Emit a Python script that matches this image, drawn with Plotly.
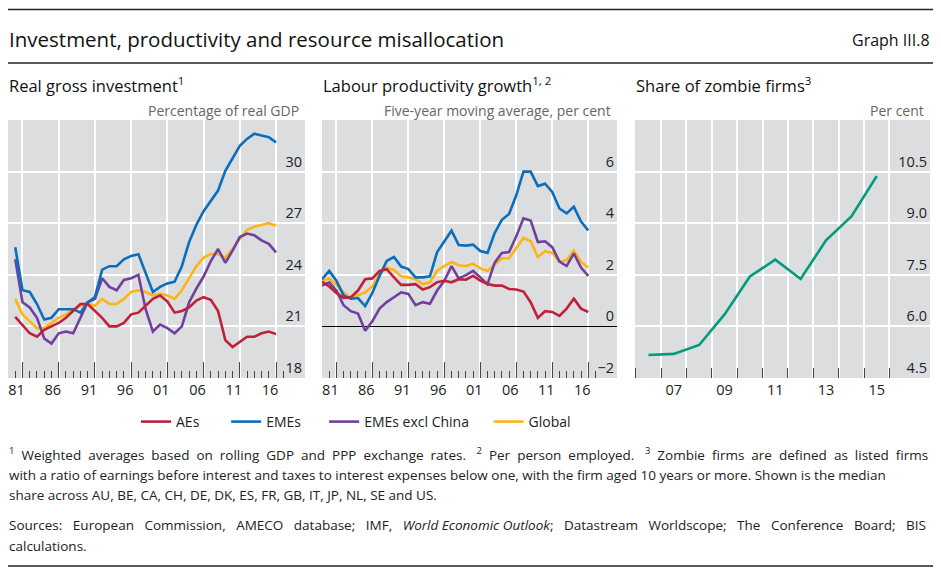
import plotly.graph_objects as go

W, H = 941, 575


def px(x):
    return x / W


def py(y):
    return 1 - y / H


# ---------------- data ----------------
inv_years = list(range(1980, 2017))
inv_aes = [21.55, 21.1, 20.6, 20.4, 20.8, 21.0, 21.2, 21.5, 21.9, 22.3,
           22.3, 21.9, 21.5, 21.0, 21.0, 21.2, 21.7, 21.8, 22.2, 22.6,
           22.8, 22.45, 21.8, 21.9, 22.1, 22.5, 22.7, 22.55, 21.9, 20.2,
           19.8, 20.1, 20.4, 20.4, 20.6, 20.7, 20.55]
inv_emes = [25.6, 23.1, 23.0, 22.3, 21.4, 21.5, 22.0, 22.0, 22.0, 21.8,
            22.4, 22.7, 24.3, 24.5, 24.5, 24.9, 25.1, 25.2, 24.1, 23.0,
            23.3, 23.5, 23.6, 24.5, 25.9, 26.9, 27.7, 28.3, 28.9, 30.05,
            30.8, 31.5, 31.9, 32.2, 32.1, 32.0, 31.7]
inv_emxc = [24.9, 22.4, 22.1, 21.5, 20.3, 20.0, 20.6, 20.7, 20.6, 21.5,
            22.4, 22.6, 23.8, 23.3, 23.1, 23.7, 23.8, 24.0, 22.0, 20.7,
            21.1, 20.9, 20.6, 21.0, 22.4, 23.2, 23.9, 24.8, 25.5, 24.7,
            25.4, 26.2, 26.4, 26.3, 26.0, 25.8, 25.3]
inv_glob = [22.6, 21.7, 21.3, 20.9, 20.9, 21.2, 21.5, 21.7, 22.0, 22.2,
            22.3, 22.2, 22.6, 22.3, 22.3, 22.6, 23.0, 23.1, 23.0, 22.8,
            22.9, 22.8, 22.6, 23.1, 23.8, 24.5, 25.0, 25.2, 25.2, 25.0,
            25.5, 26.1, 26.6, 26.8, 26.9, 27.0, 26.85]

prod_years = list(range(1979, 2017))
prod_aes = [1.73, 1.55, 1.3, 1.1, 1.13, 1.39, 1.83, 1.86, 2.15, 2.22,
            1.9, 1.61, 1.61, 1.64, 1.43, 1.52, 1.71, 1.77, 1.71, 1.83,
            1.81, 1.96, 1.77, 1.64, 1.58, 1.58, 1.45, 1.43, 1.35, 0.94,
            0.33, 0.59, 0.56, 0.41, 0.69, 1.07, 0.69, 0.56]
prod_emes = [1.83, 2.15, 1.77, 1.2, 1.07, 1.1, 0.79, 1.3, 1.96, 2.54,
             2.69, 2.32, 2.22, 1.9, 1.9, 1.94, 2.88, 3.3, 3.71, 3.15,
             3.13, 3.17, 2.92, 2.85, 3.62, 4.13, 4.36, 5.08, 6.0, 6.0,
             5.44, 5.53, 5.21, 4.57, 4.38, 4.64, 4.06, 3.72]
prod_emxc = [1.58, 1.71, 1.39, 0.82, 0.59, 0.5, -0.17, 0.2, 0.69, 0.94,
             1.13, 1.32, 1.26, 0.82, 0.94, 0.88, 1.39, 1.77, 2.34, 1.86,
             1.99, 2.15, 1.9, 1.64, 2.47, 2.85, 2.88, 3.49, 4.19, 4.1,
             3.27, 3.3, 3.07, 2.51, 2.34, 2.83, 2.28, 1.96]
prod_glob = [1.77, 1.86, 1.61, 1.32, 1.1, 1.22, 1.32, 1.55, 2.03, 2.28,
             2.19, 1.94, 1.9, 1.83, 1.64, 1.71, 2.15, 2.34, 2.5, 2.37,
             2.34, 2.43, 2.25, 2.15, 2.41, 2.64, 2.64, 3.04, 3.43, 3.3,
             2.69, 2.92, 2.85, 2.5, 2.57, 2.94, 2.5, 2.28]

zombie_years = list(range(2006, 2016))
zombie_share = [5.17, 5.2, 5.46, 6.35, 7.45, 7.94, 7.38, 8.5, 9.2, 10.37]

long_tickvals = [1981, 1986, 1991, 1996, 2001, 2006, 2011, 2016]
long_ticktext = ["81", "86", "91", "96", "01", "06", "11", "16"]
zombie_tickvals = [2007, 2009, 2011, 2013, 2015]
zombie_ticktext = ["07", "09", "11", "13", "15"]

inv_yticks = [18, 21, 24, 27, 30]
prod_yticks = [-2, 0, 2, 4, 6]
prod_yticktext = ["\u22122", "0", "2", "4", "6"]
zombie_yticks = [4.5, 6.0, 7.5, 9.0, 10.5]

series_names = ["AEs", "EMEs", "EMEs excl China", "Global"]
colors = {"AEs": "#C0203A", "EMEs": "#0A6EBD",
          "EMEs excl China": "#7040A0", "Global": "#FDB515"}
green = "#009B7E"

# ---------------- figure ----------------
FONT = "Open Sans"
BG = "#DCDDDF"
TICKC = "#444444"
NB = "\u00a0"
fig = go.Figure()

inv_data = {"AEs": inv_aes, "EMEs": inv_emes,
            "EMEs excl China": inv_emxc, "Global": inv_glob}
prod_data = {"AEs": prod_aes, "EMEs": prod_emes,
             "EMEs excl China": prod_emxc, "Global": prod_glob}
# spacing after each legend entry (to mimic the reference legend layout)
legend_pad = {"AEs": 6, "EMEs": 5, "EMEs excl China": 4, "Global": 0}

draw_order = ["Global", "EMEs excl China", "EMEs", "AEs"]
for name in draw_order:
    fig.add_trace(go.Scatter(
        x=inv_years, y=inv_data[name], mode="lines",
        name=name + NB * legend_pad[name],
        line=dict(color=colors[name], width=2.6),
        legendrank=series_names.index(name) + 1,
        xaxis="x", yaxis="y", showlegend=True))
for name in draw_order:
    fig.add_trace(go.Scatter(
        x=prod_years, y=prod_data[name], mode="lines", name=name,
        line=dict(color=colors[name], width=2.6),
        xaxis="x2", yaxis="y2", showlegend=False))
fig.add_trace(go.Scatter(
    x=zombie_years, y=zombie_share, mode="lines", name="Zombie firms",
    line=dict(color=green, width=2.6), xaxis="x3", yaxis="y3",
    showlegend=False))

y_dom = [py(378), py(120)]
doms = {1: [px(8), px(305)], 2: [px(322), px(617)], 3: [px(635), px(930)]}

tickfont = dict(family=FONT, size=14.5, color="#222222")


def long_xaxis(dom, anchor):
    return dict(
        domain=dom, anchor=anchor, range=[1979, 2020],
        tickmode="array", tickvals=long_tickvals, ticktext=long_ticktext,
        ticks="inside", ticklen=16, tickwidth=1.3, tickcolor=TICKC,
        ticklabelshift=-6, ticklabelstandoff=1,
        minor=dict(tick0=1979, dtick=1, ticks="inside", ticklen=7,
                   tickwidth=1, tickcolor=TICKC, showgrid=False),
        showgrid=True, gridcolor="white", gridwidth=1.5,
        showline=False, zeroline=False, tickfont=tickfont, fixedrange=True)


def yaxis(anchor, rng, tickvals, ticktext=None, fmt=None, zero=False):
    d = dict(
        domain=y_dom, anchor=anchor, range=rng, side="right",
        tickmode="array", tickvals=tickvals,
        ticklabelposition="inside top", ticks="",
        showgrid=True, gridcolor="white", gridwidth=1.5,
        showline=False, zeroline=zero, zerolinecolor="#000000",
        zerolinewidth=1, tickfont=tickfont, fixedrange=True)
    if ticktext is not None:
        d["ticktext"] = ticktext
    if fmt is not None:
        d["tickformat"] = fmt
    return d


fig.update_layout(
    width=W, height=H,
    margin=dict(l=0, r=0, t=0, b=0, pad=0),
    paper_bgcolor="white", plot_bgcolor=BG,
    font=dict(family=FONT, size=13, color="#222222"),
    xaxis=long_xaxis(doms[1], "y"),
    xaxis2=long_xaxis(doms[2], "y2"),
    xaxis3=dict(
        domain=doms[3], anchor="y3", range=[2005.47, 2017.1],
        tickmode="array", tickvals=zombie_tickvals, ticktext=zombie_ticktext,
        ticks="", ticklabelstandoff=1,
        minor=dict(tick0=2005.5, dtick=1, ticks="inside", ticklen=10,
                   tickwidth=1.3, tickcolor=TICKC, showgrid=True,
                   gridcolor="white", gridwidth=1.5),
        showgrid=False, showline=False, zeroline=False,
        tickfont=tickfont, fixedrange=True),
    yaxis=yaxis("x", [18, 33], inv_yticks),
    yaxis2=yaxis("x2", [-2, 8], prod_yticks, prod_yticktext, zero=True),
    yaxis3=yaxis("x3", [4.5, 12], zombie_yticks, fmt=".1f"),
    legend=dict(orientation="h", x=px(136), y=py(422), xanchor="left",
                yanchor="middle", font=dict(family=FONT, size=14,
                                            color="#222222"),
                bgcolor="rgba(0,0,0,0)", itemwidth=30, tracegroupgap=0),
    showlegend=True,
)


def spread(text, n):
    """Widen word gaps to imitate the justified footnote lines."""
    return text.replace(" ", " " + NB * n) if n else text


ann = []
# main title
ann.append(dict(text="Investment, productivity and resource misallocation",
                x=px(7), y=py(39), xanchor="left", yanchor="middle",
                font=dict(size=20.5, family=FONT, color="#111111")))
ann.append(dict(text="Graph III.8", x=px(932), y=py(40), xanchor="right",
                yanchor="middle",
                font=dict(size=16, family=FONT, color="#111111")))
# panel titles
titles = ["Real gross investment<sup>1</sup>",
          "Labour productivity growth<sup>1, 2</sup>",
          "Share of zombie firms<sup>3</sup>"]
subs = ["Percentage of real GDP", "Five-year moving average, per cent",
        "Per cent"]
for i, (t, s) in enumerate(zip(titles, subs), start=1):
    ann.append(dict(text=t, x=doms[i][0] - px(1), y=py(85), xanchor="left",
                    yanchor="middle",
                    font=dict(size=16.5, family=FONT, color="#111111")))
    ann.append(dict(text=s, x=doms[i][1] - px(4), y=py(110),
                    xanchor="right", yanchor="middle",
                    font=dict(size=14, family=FONT, color="#666666")))

foot = [
    (spread("<sup>1</sup> Weighted averages based on rolling GDP and PPP "
            "exchange rates.", 1) + "   " +
     spread("<sup>2</sup> Per person employed.", 1) + "   " +
     spread("<sup>3</sup> Zombie firms are defined as listed firms", 1), 454),
    ("with a ratio of earnings before interest and taxes to interest expenses "
     "below one, with the firm aged 10 years or more. Shown is the median", 475),
    ("share across AU, BE, CA, CH, DE, DK, ES, FR, GB, IT, JP, NL, SE and US.",
     495),
    (spread("Sources: European Commission, AMECO database; IMF,", 2) +
     " " + NB * 2 + "<i>World Economic Outlook</i>;" + " " + NB * 2 +
     spread("Datastream Worldscope; The Conference Board; BIS", 2), 525),
    ("calculations.", 546),
]
for txt, yy in foot:
    ann.append(dict(text=txt, x=px(7), y=py(yy), xanchor="left",
                    yanchor="middle",
                    font=dict(size=13.5, family=FONT, color="#222222")))

for a in ann:
    a.update(xref="paper", yref="paper", showarrow=False)
fig.update_layout(annotations=ann)

for yy in (9.5, 63, 566):
    fig.add_shape(type="line", xref="paper", yref="paper",
                  x0=px(8), x1=px(933), y0=py(yy), y1=py(yy),
                  line=dict(color="#222222", width=1.3))

fig.write_html("out.html", config={"displayModeBar": False},
               post_script="document.body.style.margin='0';")
